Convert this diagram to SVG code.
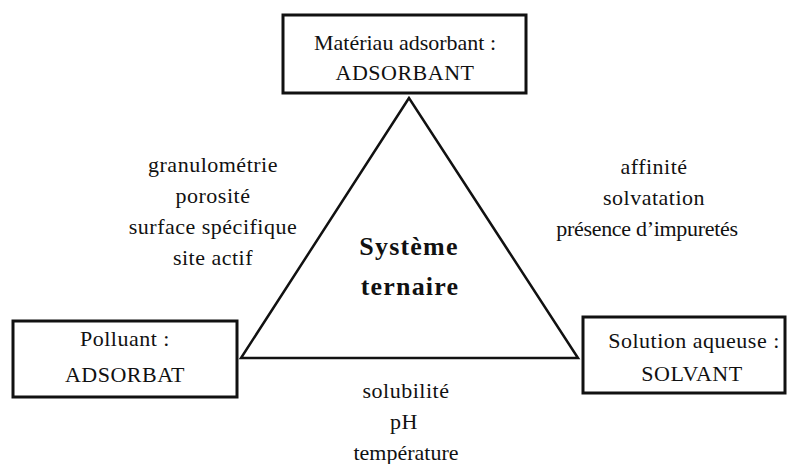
<svg xmlns="http://www.w3.org/2000/svg" width="794" height="464" viewBox="0 0 794 464">
<style>
.box{fill:#fff;stroke:#111;stroke-width:3}
.tri{fill:none;stroke:#111;stroke-width:2.5;stroke-linejoin:miter}
text{font-family:"Liberation Serif","Times New Roman",serif;font-size:22px;fill:#111;text-anchor:middle;letter-spacing:0.5px}
.big{font-size:26px;font-weight:bold;letter-spacing:1.2px}
.tight{letter-spacing:0}
.narrow{letter-spacing:-0.3px}
</style>
<rect width="794" height="464" fill="#fff"/>
<g id="connectors">
<polygon class="tri" points="409,98 241,358 578,358"/>
</g>
<g id="center">
<text class="big" x="409" y="255">Système</text>
<text class="big" x="410" y="295">ternaire</text>
</g>
<g id="adsorbant">
<rect class="box" x="283" y="15" width="243" height="78"/>
<text class="tight" x="405" y="50">Matériau adsorbant :</text>
<text x="405" y="80">ADSORBANT</text>
</g>
<g id="adsorbat">
<rect class="box" x="13" y="321" width="224" height="76"/>
<text x="125" y="346">Polluant :</text>
<text x="125" y="382">ADSORBAT</text>
</g>
<g id="solvant">
<rect class="box" x="583" y="317" width="202" height="76"/>
<text x="694" y="348">Solution aqueuse :</text>
<text x="692" y="381">SOLVANT</text>
</g>
<g id="left-labels">
<text x="213" y="172">granulométrie</text>
<text x="213" y="203">porosité</text>
<text x="213" y="234">surface spécifique</text>
<text x="213" y="265">site actif</text>
</g>
<g id="right-labels">
<text x="654" y="174">affinité</text>
<text x="654" y="205">solvatation</text>
<text class="narrow" x="647" y="236">présence d’impuretés</text>
</g>
<g id="bottom-labels">
<text x="406" y="398">solubilité</text>
<text x="404" y="429">pH</text>
<text class="tight" x="406" y="460">température</text>
</g>
</svg>
